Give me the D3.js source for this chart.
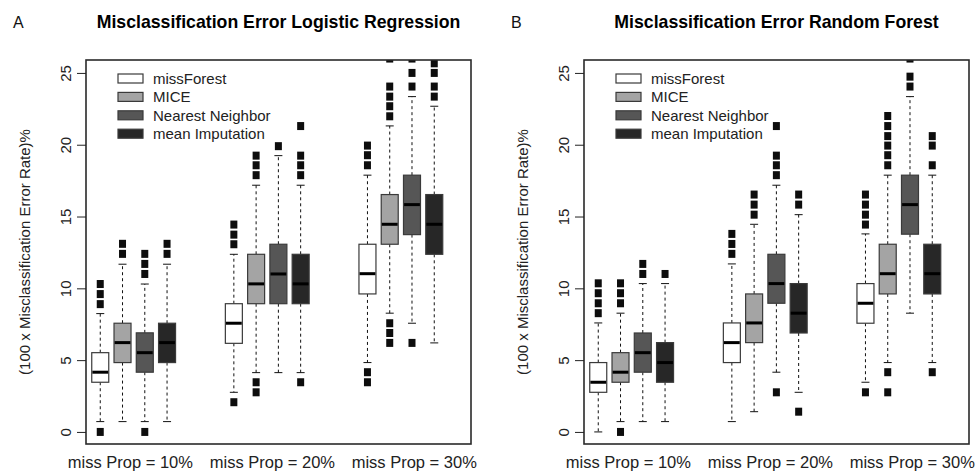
<!DOCTYPE html>
<html>
<head>
<meta charset="utf-8">
<script src="https://cdn.jsdelivr.net/npm/d3@7"></script>
<style>
  html, body { margin: 0; padding: 0; background: #fff; }
  svg { display: block; font-family: "Liberation Sans", Arial, Helvetica, sans-serif; }
</style>
</head>
<body>
<svg id="chart" width="980" height="475"></svg>
<script>
// ---------------- data ----------------
const methods = ["missForest", "MICE", "Nearest Neighbor", "mean Imputation"];
const groupLabels = ["miss Prop = 10%", "miss Prop = 20%", "miss Prop = 30%"];
const groupLabelAt = [2.33, 8.71, 15.08];
const boxAt = [1, 2, 3, 4, 7, 8, 9, 10, 13, 14, 15, 16];
const yTicks = [0, 5, 10, 15, 20, 25];
const panelTitles = ["Misclassification Error Logistic Regression", "Misclassification Error Random Forest"];
const panelLetters = ["A", "B"];
const yTitle = "(100 x Misclassification Error Rate)%";

// Panel A: logistic regression (order per group: missForest, MICE, NN, mean)
const lrLow    = [0.72, 0.72, 0.72, 0.72, 2.76, 4.13, 4.13, 4.13, 4.83, 8.27, 7.57, 6.20];
const lrQ1     = [3.46, 4.83, 4.16, 4.83, 6.17, 8.93, 8.93, 8.93, 9.61, 13.07, 13.74, 12.37];
const lrMedian = [4.16, 6.22, 5.52, 6.22, 7.57, 10.31, 11.00, 10.31, 11.02, 14.46, 15.83, 14.46];
const lrQ3     = [5.52, 7.57, 6.90, 7.57, 8.93, 12.37, 13.07, 12.37, 13.07, 16.53, 17.88, 16.53];
const lrHigh   = [8.24, 11.68, 10.30, 11.68, 12.37, 17.18, 19.24, 17.18, 17.88, 21.31, 23.35, 22.68];
const lrOutliers = [
  [10.30, 9.60, 8.90, 0.0],
  [13.10, 12.40],
  [12.40, 11.70, 11.00, 0.0],
  [13.10, 12.40],
  [14.44, 13.74, 13.07, 2.07],
  [19.24, 18.57, 17.88, 3.46, 2.76],
  [19.90],
  [21.30, 19.24, 18.57, 17.88, 3.46],
  [19.94, 19.27, 18.57, 4.16, 3.46],
  [26.00, 24.05, 23.35, 22.68, 21.98, 7.57, 6.89, 6.20],
  [26.00, 25.00, 24.05, 6.20],
  [25.67, 25.00, 24.05, 23.35]
];

// Panel B: random forest
const rfLow    = [0.00, 0.72, 0.72, 0.72, 0.72, 1.41, 4.16, 2.76, 3.46, 4.83, 8.27, 4.83];
const rfQ1     = [2.76, 3.46, 4.16, 3.46, 4.83, 6.22, 8.96, 6.89, 7.57, 9.61, 13.77, 9.61];
const rfMedian = [3.46, 4.16, 5.52, 4.83, 6.22, 7.59, 10.33, 8.27, 8.96, 11.02, 15.83, 11.02];
const rfQ3     = [4.83, 5.52, 6.89, 6.22, 7.59, 9.61, 12.37, 10.33, 10.33, 13.07, 17.88, 13.07];
const rfHigh   = [7.59, 8.27, 10.33, 10.33, 11.70, 14.46, 17.18, 15.13, 13.79, 17.88, 23.35, 17.88];
const rfOutliers = [
  [10.35, 9.66, 8.96, 8.27],
  [10.35, 9.66, 8.96, 0.0],
  [11.70, 11.00],
  [11.00],
  [13.79, 13.09, 12.40],
  [16.53, 15.83, 15.13],
  [21.30, 19.24, 18.57, 17.88, 2.76],
  [16.53, 15.83, 1.41],
  [16.53, 15.83, 15.13, 14.44, 2.76],
  [22.00, 21.30, 20.60, 19.94, 19.27, 18.57, 4.16, 2.76],
  [26.00, 24.74, 24.05],
  [20.60, 19.94, 18.57, 4.16]
];

// ---------------- style ----------------
const methodFills = ["#ffffff", "#a4a4a4", "#565656", "#272727"];
const boxStroke = "#3a3a3a";
const panelLeft = [86, 584];
const plotTop = 60, plotW = 385, plotH = 384;
const boxW = 17, capW = 8;

const svg = d3.select("#chart");

function drawPanel(p, low, q1, med, q3, high, outl) {
  const left = panelLeft[p];
  const g = svg.append("g").attr("transform", `translate(${left},${plotTop})`);
  const x = d3.scaleLinear().domain([0.36, 17.65]).range([0, plotW]);
  const y = d3.scaleLinear().domain([-0.84, 25.9]).range([plotH, 0]);

  const clipId = "clip" + p;
  svg.append("clipPath").attr("id", clipId)
    .append("rect").attr("x", 0).attr("y", 0).attr("width", plotW).attr("height", plotH);

  const body = g.append("g").attr("clip-path", `url(#${clipId})`);

  const rows = boxAt.map((pos, i) => ({
    pos, i, m: i % 4, low: low[i], q1: q1[i], med: med[i], q3: q3[i], high: high[i], out: outl[i]
  }));

  const b = body.selectAll("g.box").data(rows).join("g").attr("class", "box");

  // whiskers (dashed)
  b.append("line")
    .attr("x1", d => x(d.pos)).attr("x2", d => x(d.pos))
    .attr("y1", d => y(d.q3)).attr("y2", d => y(d.high))
    .attr("stroke", "#111").attr("stroke-width", 1).attr("stroke-dasharray", "3,3");
  b.append("line")
    .attr("x1", d => x(d.pos)).attr("x2", d => x(d.pos))
    .attr("y1", d => y(d.q1)).attr("y2", d => y(d.low))
    .attr("stroke", "#111").attr("stroke-width", 1).attr("stroke-dasharray", "3,3");
  // staples
  b.append("line")
    .attr("x1", d => x(d.pos) - capW / 2).attr("x2", d => x(d.pos) + capW / 2)
    .attr("y1", d => y(d.high)).attr("y2", d => y(d.high))
    .attr("stroke", "#111").attr("stroke-width", 1);
  b.append("line")
    .attr("x1", d => x(d.pos) - capW / 2).attr("x2", d => x(d.pos) + capW / 2)
    .attr("y1", d => y(d.low)).attr("y2", d => y(d.low))
    .attr("stroke", "#111").attr("stroke-width", 1);
  // box
  b.append("rect")
    .attr("x", d => x(d.pos) - boxW / 2).attr("width", boxW)
    .attr("y", d => y(d.q3)).attr("height", d => y(d.q1) - y(d.q3))
    .attr("fill", d => methodFills[d.m]).attr("stroke", boxStroke).attr("stroke-width", 1.2);
  // median
  b.append("line")
    .attr("x1", d => x(d.pos) - boxW / 2 + 0.6).attr("x2", d => x(d.pos) + boxW / 2 - 0.6)
    .attr("y1", d => y(d.med)).attr("y2", d => y(d.med))
    .attr("stroke", "#000").attr("stroke-width", 3);
  // outliers
  b.selectAll("rect.out").data(d => d.out.map(v => ({ pos: d.pos, v }))).join("rect")
    .attr("class", "out")
    .attr("x", d => x(d.pos) - 3.5).attr("width", 7)
    .attr("y", d => y(d.v) - 4).attr("height", 8)
    .attr("fill", "#0d0d0d");

  // frame
  g.append("rect").attr("x", 0).attr("y", 0).attr("width", plotW).attr("height", plotH)
    .attr("fill", "none").attr("stroke", "#2a2a2a").attr("stroke-width", 1.6);

  // y axis
  const ya = g.append("g").call(d3.axisLeft(y).tickValues(yTicks).tickSize(9).tickFormat(d3.format("d")));
  ya.select(".domain").remove();
  ya.selectAll(".tick line").attr("stroke", "#222").attr("stroke-width", 1);
  ya.selectAll(".tick text")
    .attr("x", null).attr("dy", null)
    .attr("transform", "translate(-15,0) rotate(-90)")
    .attr("text-anchor", "middle")
    .attr("fill", "#222")
    .style("font-size", "15px").style("font-family", "Liberation Sans, Arial, sans-serif");

  // x axis labels
  const xa = g.append("g").attr("transform", `translate(0,${plotH})`)
    .call(d3.axisBottom(x).tickValues(groupLabelAt).tickSize(0).tickFormat((d, i) => groupLabels[i]));
  xa.select(".domain").remove();
  xa.selectAll(".tick text")
    .attr("y", 24).attr("dy", null)
    .attr("fill", "#222")
    .style("font-size", "16.5px").style("font-family", "Liberation Sans, Arial, sans-serif");

  // y title
  g.append("text")
    .attr("transform", `translate(-56,${plotH / 2}) rotate(-90)`)
    .attr("text-anchor", "middle")
    .attr("fill", "#222")
    .style("font-size", "15px")
    .text(yTitle);

  // panel title
  svg.append("text")
    .attr("x", left + plotW / 2).attr("y", 28)
    .attr("text-anchor", "middle")
    .style("font-size", "17.7px").style("font-weight", "bold")
    .attr("fill", "#000")
    .text(panelTitles[p]);
  svg.append("text")
    .attr("x", left - 73).attr("y", 28)
    .style("font-size", "16px")
    .attr("fill", "#111")
    .text(panelLetters[p]);

  // legend
  const lg = g.append("g").attr("transform", "translate(32,18.5)");
  const li = lg.selectAll("g").data(methods).join("g")
    .attr("transform", (d, i) => `translate(0,${i * 18.4})`);
  li.append("rect").attr("x", 0).attr("y", -4.5).attr("width", 25).attr("height", 9)
    .attr("fill", (d, i) => methodFills[i]).attr("stroke", boxStroke).attr("stroke-width", 1.2);
  li.append("text").attr("x", 35).attr("y", 0).attr("dy", "0.35em")
    .attr("fill", "#222").style("font-size", "15px")
    .text(d => d);
}

drawPanel(0, lrLow, lrQ1, lrMedian, lrQ3, lrHigh, lrOutliers);
drawPanel(1, rfLow, rfQ1, rfMedian, rfQ3, rfHigh, rfOutliers);
</script>
</body>
</html>
